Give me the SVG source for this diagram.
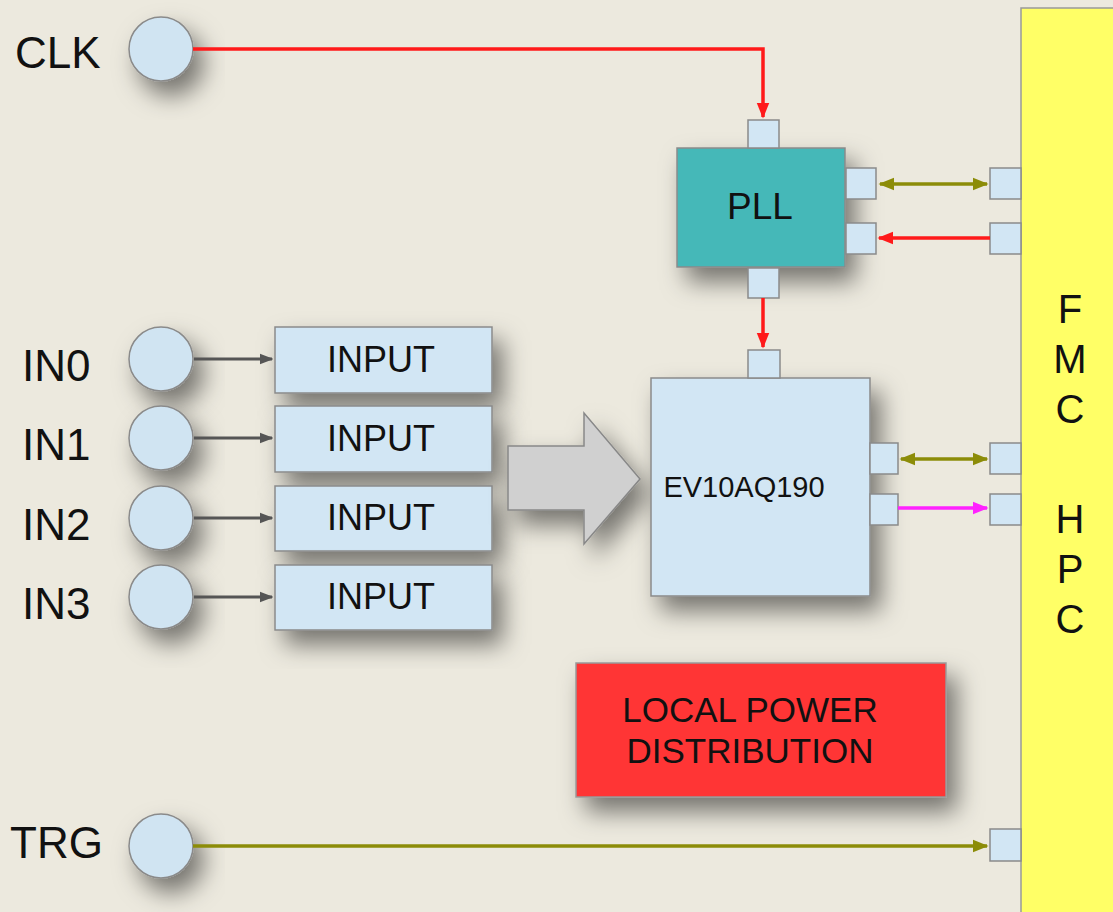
<svg xmlns="http://www.w3.org/2000/svg" width="1113" height="912" viewBox="0 0 1113 912">
<style>
.lbl{font-family:"Liberation Sans",Arial,sans-serif;font-size:44px;fill:#111}
.txt{font-family:"Liberation Sans",Arial,sans-serif;fill:#111;text-anchor:middle}
.box{fill:#D2E6F4;stroke:#8a8a8a;stroke-width:1.5}
.port{fill:#D2E6F4;stroke:#8a8a8a;stroke-width:1.5}
.conn{fill:#D0E4F2;stroke:#8a8a8a;stroke-width:1.5}
.red{stroke:#FF1A1A;stroke-width:3.5;fill:none}
.olive{stroke:#8C8C08;stroke-width:3.5;fill:none}
.mag{stroke:#FF22FF;stroke-width:3.5;fill:none}
.grey{stroke:#555;stroke-width:3;fill:none}
</style>
<defs>
<filter id="sh" x="-40%" y="-40%" width="190%" height="200%">
<feDropShadow dx="10" dy="14" stdDeviation="12" flood-color="#000" flood-opacity="0.5"/>
</filter>
<marker id="aR" viewBox="0 0 10 10" refX="9" refY="5" markerWidth="4.5" markerHeight="4.5" orient="auto-start-reverse"><path d="M0,1 L10,5 L0,9 Z" fill="#FF1A1A"/></marker>
<marker id="aO" viewBox="0 0 10 10" refX="9" refY="5" markerWidth="4.5" markerHeight="4.5" orient="auto-start-reverse"><path d="M0,1 L10,5 L0,9 Z" fill="#8C8C08"/></marker>
<marker id="aM" viewBox="0 0 10 10" refX="9" refY="5" markerWidth="4.5" markerHeight="4.5" orient="auto-start-reverse"><path d="M0,1 L10,5 L0,9 Z" fill="#FF22FF"/></marker>
<marker id="aG" viewBox="0 0 10 10" refX="9" refY="5" markerWidth="4.5" markerHeight="4.5" orient="auto-start-reverse"><path d="M0,1 L10,5 L0,9 Z" fill="#555"/></marker>
</defs>
<rect x="0" y="0" width="1113" height="912" fill="#ECE9DE"/>

<g id="fmc">
<rect x="1021" y="8" width="100" height="910" fill="#FFFF66" stroke="#999" stroke-width="1.5"/>
<text class="txt" font-size="40" x="1070" y="323">F</text>
<text class="txt" font-size="40" x="1070" y="373">M</text>
<text class="txt" font-size="40" x="1070" y="423">C</text>
<text class="txt" font-size="40" x="1070" y="533">H</text>
<text class="txt" font-size="40" x="1070" y="583">P</text>
<text class="txt" font-size="40" x="1070" y="633">C</text>
<rect class="port" x="990" y="168" width="31" height="31"/>
<rect class="port" x="990" y="223" width="31" height="31"/>
<rect class="port" x="990" y="443" width="31" height="31"/>
<rect class="port" x="990" y="494" width="31" height="31"/>
<rect class="port" x="990" y="829" width="31" height="32"/>
</g>

<g id="clk">
<text class="lbl" x="15" y="68">CLK</text>
<circle class="conn" cx="161" cy="49" r="32" filter="url(#sh)"/>
</g>
<g id="in0"><text class="lbl" x="22" y="381">IN0</text><circle class="conn" cx="161" cy="359" r="32" filter="url(#sh)"/></g>
<g id="in1"><text class="lbl" x="22" y="460">IN1</text><circle class="conn" cx="161" cy="438" r="32" filter="url(#sh)"/></g>
<g id="in2"><text class="lbl" x="22" y="540">IN2</text><circle class="conn" cx="161" cy="518" r="32" filter="url(#sh)"/></g>
<g id="in3"><text class="lbl" x="22" y="619">IN3</text><circle class="conn" cx="161" cy="597" r="32" filter="url(#sh)"/></g>
<g id="trg"><text class="lbl" x="10" y="858">TRG</text><circle class="conn" cx="161" cy="846" r="32" filter="url(#sh)"/></g>

<g id="input0"><rect class="box" x="275" y="327" width="217" height="66" filter="url(#sh)"/><text class="txt" font-size="36" x="381" y="372">INPUT</text></g>
<g id="input1"><rect class="box" x="275" y="406" width="217" height="66" filter="url(#sh)"/><text class="txt" font-size="36" x="381" y="451">INPUT</text></g>
<g id="input2"><rect class="box" x="275" y="486" width="217" height="65" filter="url(#sh)"/><text class="txt" font-size="36" x="381" y="530">INPUT</text></g>
<g id="input3"><rect class="box" x="275" y="565" width="217" height="65" filter="url(#sh)"/><text class="txt" font-size="36" x="381" y="609">INPUT</text></g>

<g id="bigarrow">
<path d="M508,446 L584,446 L584,413 L640,479 L584,544 L584,510 L508,510 Z" fill="#D0D0D0" stroke="#888" stroke-width="1.5" filter="url(#sh)"/>
</g>

<g id="pll">
<rect x="677" y="148" width="168" height="119" fill="#45B8B8" stroke="#8a8a8a" stroke-width="1.5" filter="url(#sh)"/>
<rect class="port" x="748" y="120" width="31" height="28"/>
<rect class="port" x="748" y="268" width="31" height="30"/>
<rect class="port" x="846" y="168" width="30" height="31"/>
<rect class="port" x="846" y="223" width="30" height="31"/>
<text class="txt" font-size="37" x="760" y="219">PLL</text>
</g>

<g id="ev10aq190">
<rect class="box" x="651" y="378" width="219" height="218" filter="url(#sh)"/>
<rect class="port" x="748" y="350" width="32" height="28"/>
<rect class="port" x="870" y="443" width="28" height="31"/>
<rect class="port" x="870" y="494" width="28" height="31"/>
<text class="txt" font-size="29" x="744" y="497">EV10AQ190</text>
</g>

<g id="power">
<rect x="576" y="663" width="370" height="134" fill="#FF3535" stroke="#999" stroke-width="1.5" filter="url(#sh)"/>
<text class="txt" font-size="35" x="750" y="722">LOCAL POWER</text>
<text class="txt" font-size="35" x="750" y="763">DISTRIBUTION</text>
</g>

<g id="connectors">
<path class="red" d="M193,49 L763,49 L763,117" marker-end="url(#aR)"/>
<path class="red" d="M763,298 L763,347" marker-end="url(#aR)"/>
<path class="olive" d="M880,184 L987,184" marker-start="url(#aO)" marker-end="url(#aO)"/>
<path class="red" d="M990,238 L879,238" marker-end="url(#aR)"/>
<path class="olive" d="M901,459 L987,459" marker-start="url(#aO)" marker-end="url(#aO)"/>
<path class="mag" d="M898,508 L987,508" marker-end="url(#aM)"/>
<path class="olive" d="M193,846 L987,846" marker-end="url(#aO)"/>
<path class="grey" d="M194,359 L272,359" marker-end="url(#aG)"/>
<path class="grey" d="M194,438 L272,438" marker-end="url(#aG)"/>
<path class="grey" d="M194,518 L272,518" marker-end="url(#aG)"/>
<path class="grey" d="M194,597 L272,597" marker-end="url(#aG)"/>
</g>
</svg>
